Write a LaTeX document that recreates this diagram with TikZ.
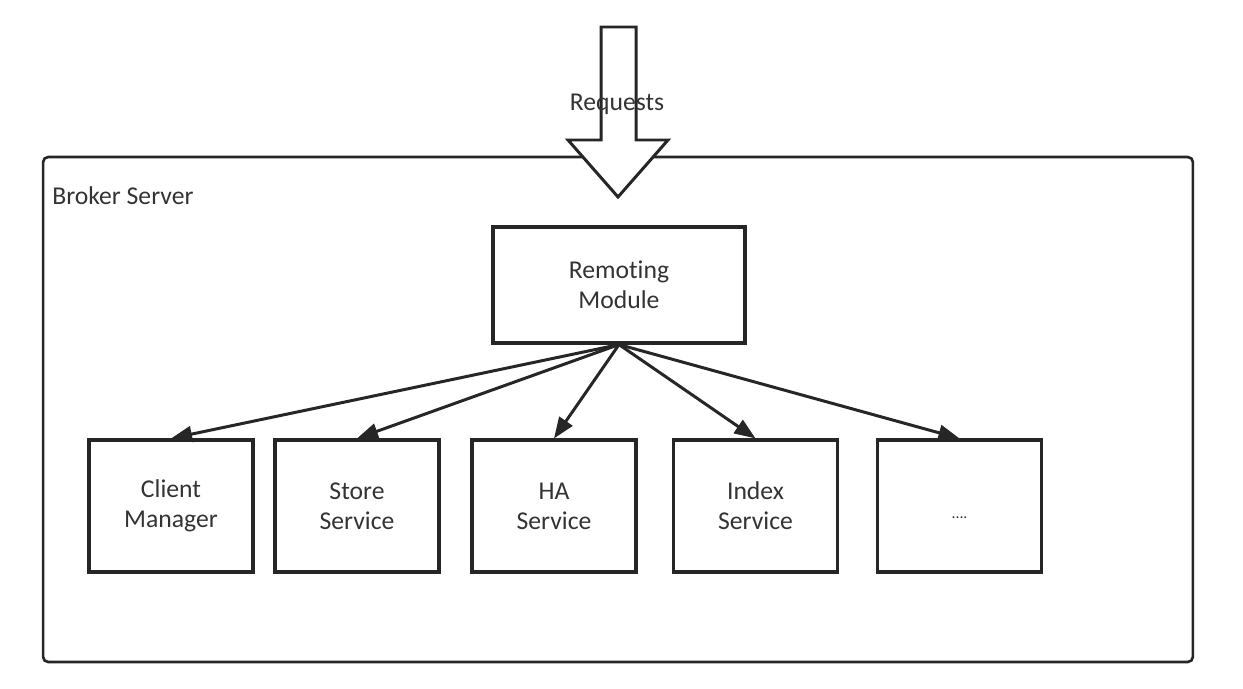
\documentclass[tikz,border=0pt]{standalone}
\usepackage{fontspec}
\setmainfont{Carlito}[Ligatures = NoCommon]
\usetikzlibrary{arrows.meta}
\begin{document}
\begin{tikzpicture}[x = 0.02cm, y = -0.02cm,
		box/.style = {draw = black!85, line width = 1.8pt, inner sep = 0pt, align = center, font = \fontsize{14.6}{17}\selectfont, text = black!80},
		service/.style = {box, minimum width = 3.28cm, minimum height = 2.64cm},
		link/.style = {draw = black!85, line width = 1.7pt, -{Triangle[length = 12pt, width = 9pt]}}]
	\useasboundingbox (0,0) rectangle (1243,689);
	% outer server frame
	\node [draw = black!85, line width = 1.5pt, rounded corners = 0.1cm, minimum width = 23cm, minimum height = 10.1cm] (bs) at (618,409.5) {};
	\node [anchor = west, font = \fontsize{14.6}{17}\selectfont, text = black!80, inner sep = 0pt] (bsl) at (52,196) {Broker Server};
	% incoming requests
	\draw [draw = black!85, line width = 1.7pt, fill = white, line join = miter] (601,27) -- (636,27) -- (636,140) -- (668,140) -- (618,197) -- (568,140) -- (601,140) -- cycle;
	\node [font = \fontsize{14.6}{17}\selectfont, text = black!80, inner sep = 0pt] (req) at (617,104) {Requests};
	% modules
	\node [box, minimum width = 5.04cm, minimum height = 2.32cm] (rm) at (619,285) {Remoting\\Module};
	\node [service] (cm) at (171,506) {Client\\Manager};
	\node [service] (ss) at (357,506) {Store\\Service};
	\node [service] (ha) at (554,506) {HA\\Service};
	\node [service] (is) at (755.5,506) {Index\\Service};
	\node [service, font = \fontsize{9}{11}\selectfont] (more) at (959.5,506) {\raisebox{-0.5cm}{....}};
	\foreach \t in {cm, ss, ha, is, more}
		\draw [link] (rm.south) -- (\t.north);
\end{tikzpicture}
\end{document}
